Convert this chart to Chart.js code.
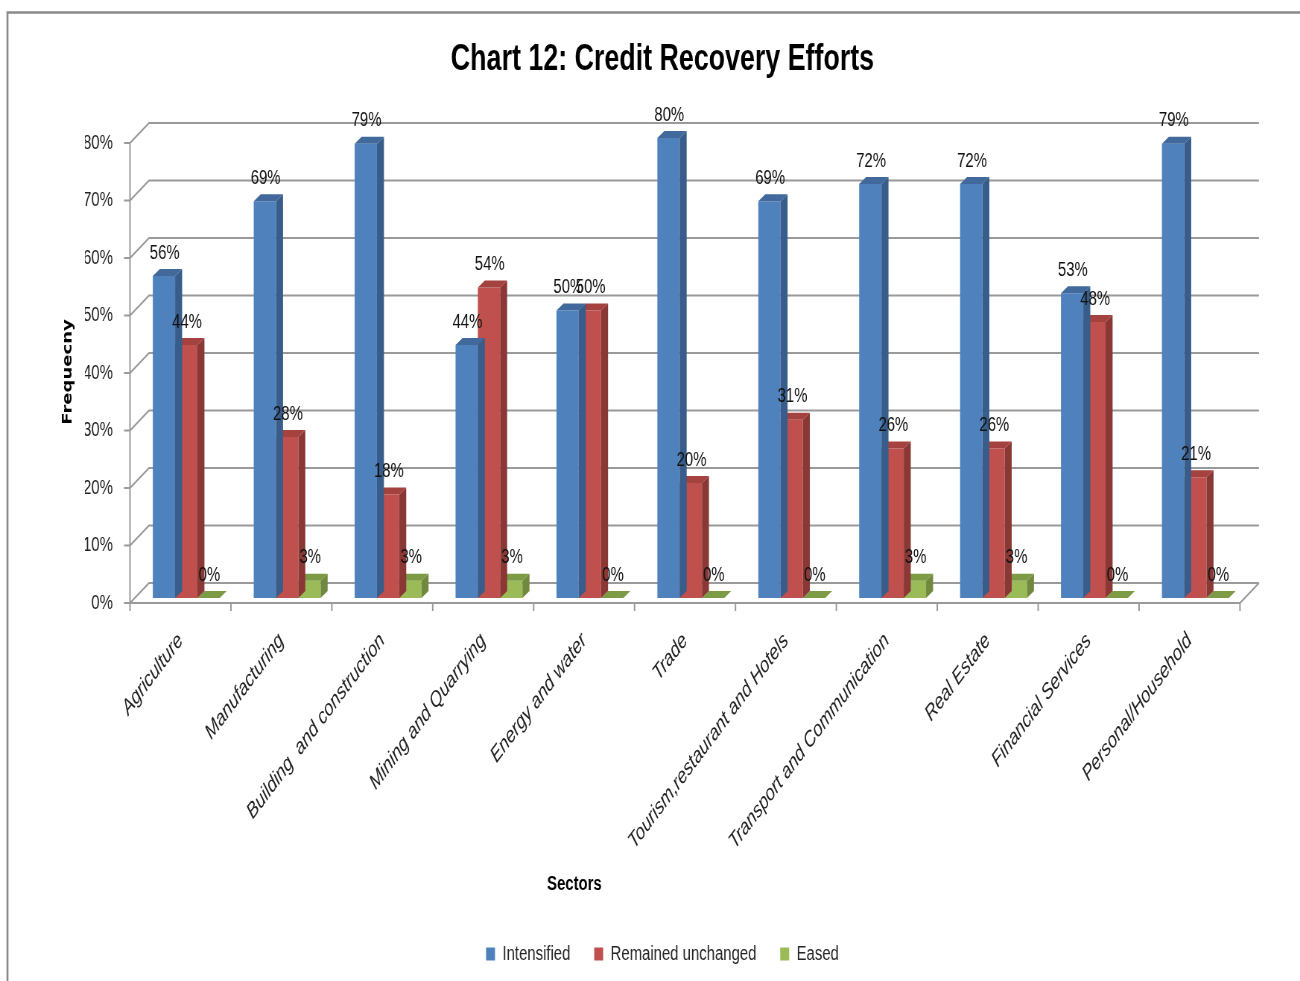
<!DOCTYPE html>
<html>
<head>
<meta charset="utf-8">
<title>Credit Recovery Efforts</title>
<script src="https://cdn.jsdelivr.net/npm/chart.js@4.4.1/dist/chart.umd.min.js"></script>
<style>
  html, body { margin: 0; padding: 0; background: #fff; overflow: hidden; }
  /* chart is laid out wide and squeezed horizontally, like the original export */
  #chart { display: block; transform: scaleX(0.745); transform-origin: 0 0; }
</style>
</head>
<body>
<canvas id="chart" width="1745" height="981"></canvas>
<script>
const sectors = [
  'Agriculture', 'Manufacturing', 'Building  and construction', 'Mining and Quarrying',
  'Energy and water', 'Trade', 'Tourism,restaurant and Hotels', 'Transport and Communication',
  'Real Estate', 'Financial Services', 'Personal/Household'
];
const intensified = [56, 69, 79, 44, 50, 80, 69, 72, 72, 53, 79];
const unchanged   = [44, 28, 18, 54, 50, 20, 31, 26, 26, 48, 21];
const eased       = [0, 3, 3, 3, 0, 0, 0, 3, 3, 0, 0];

// front / side / top shades for each series
const faces = [
  { front: '#4f81bd', side: '#385d8a', top: '#41699c' },
  { front: '#c0504d', side: '#8a3835', top: '#a4423f' },
  { front: '#9bbb59', side: '#71893f', top: '#7d9a45' }
];

const WALL_DX = 25.5, WALL_DY = -20;   // depth of the back wall
const BAR_DX = 9.4, BAR_DY = -7;       // depth of each bar
const SHIFT_X = 7.8, SHIFT_Y = -5;     // bars sit a little into the floor

const GRID = '#9a9a9a';

const box3d = {
  id: 'box3d',
  beforeDraw(chart) {
    const ctx = chart.ctx;
    ctx.save();
    ctx.strokeStyle = '#8a8a8a';
    ctx.lineWidth = 2.7;
    ctx.beginPath();
    ctx.moveTo(10, chart.height);
    ctx.lineTo(10, 12.5);
    ctx.lineTo(chart.width, 12.5);
    ctx.stroke();
    ctx.restore();
  },
  beforeDatasetsDraw(chart) {
    const { ctx, chartArea: a, scales: { y } } = chart;
    ctx.save();
    ctx.strokeStyle = GRID;
    ctx.lineWidth = 2;
    ctx.beginPath();
    y.ticks.forEach(t => {
      const py = y.getPixelForValue(t.value);
      ctx.moveTo(a.left - 8, py);
      ctx.lineTo(a.left, py);
      ctx.lineTo(a.left + WALL_DX, py + WALL_DY);
      ctx.lineTo(a.right + WALL_DX, py + WALL_DY);
    });
    ctx.moveTo(a.left, a.top);
    ctx.lineTo(a.left, a.bottom);
    ctx.lineTo(a.right, a.bottom);
    ctx.lineTo(a.right + WALL_DX, a.bottom + WALL_DY);
    const step = (a.right - a.left) / sectors.length;
    for (let i = 0; i <= sectors.length; i++) {
      const px = a.left + i * step;
      ctx.moveTo(px, a.bottom);
      ctx.lineTo(px, a.bottom + 8);
    }
    ctx.stroke();
    ctx.restore();

    ctx.save();
    ctx.translate(SHIFT_X, SHIFT_Y);
  },
  afterDatasetDraw(chart, args) {
    const ctx = chart.ctx;
    const c = faces[args.index];
    args.meta.data.forEach(bar => {
      const { x, y, base, width } = bar.getProps(['x', 'y', 'base', 'width'], true);
      const l = x - width / 2, r = x + width / 2;
      ctx.fillStyle = c.side;
      ctx.beginPath();
      ctx.moveTo(r, y);
      ctx.lineTo(r + BAR_DX, y + BAR_DY);
      ctx.lineTo(r + BAR_DX, base + BAR_DY);
      ctx.lineTo(r, base);
      ctx.closePath();
      ctx.fill();
      ctx.fillStyle = c.top;
      ctx.beginPath();
      ctx.moveTo(l, y);
      ctx.lineTo(l + BAR_DX, y + BAR_DY);
      ctx.lineTo(r + BAR_DX, y + BAR_DY);
      ctx.lineTo(r, y);
      ctx.closePath();
      ctx.fill();
    });
  },
  afterDatasetsDraw(chart) {
    const ctx = chart.ctx;
    ctx.font = '20px "Liberation Sans", Arial, sans-serif';
    ctx.fillStyle = '#111';
    ctx.textAlign = 'center';
    ctx.textBaseline = 'bottom';
    chart.data.datasets.forEach((ds, i) => {
      chart.getDatasetMeta(i).data.forEach((bar, j) => {
        ctx.fillText(ds.data[j] + '%', bar.x + 1, bar.y - 13);
      });
    });
    ctx.restore();
  },
  afterDraw(chart) {
    const ctx = chart.ctx;
    ctx.save();
    ctx.fillStyle = '#000';
    ctx.textAlign = 'center';
    ctx.textBaseline = 'middle';
    ctx.font = 'bold 20px "Liberation Sans", Arial, sans-serif';
    ctx.fillText('Sectors', 771, 884);
    ctx.translate(91, 372);
    ctx.rotate(-Math.PI / 2);
    ctx.font = 'bold 18px "DejaVu Sans", Verdana, sans-serif';
    ctx.fillText('Frequecny', 0, 0);
    ctx.restore();
  }
};

Chart.defaults.font.family = '"Liberation Sans", Arial, sans-serif';
Chart.defaults.color = '#222';

new Chart(document.getElementById('chart'), {
  type: 'bar',
  data: {
    labels: sectors,
    datasets: [
      { label: 'Intensified', data: intensified, backgroundColor: faces[0].front },
      { label: 'Remained unchanged', data: unchanged, backgroundColor: faces[1].front },
      { label: 'Eased', data: eased, backgroundColor: faces[2].front }
    ].map(d => Object.assign(d, {
      borderWidth: 0, categoryPercentage: 0.663, barPercentage: 1, clip: false
    }))
  },
  options: {
    responsive: false,
    animation: false,
    events: [],
    layout: { padding: { left: 114, right: 80.6, top: 0, bottom: 7 } },
    plugins: {
      title: {
        display: true,
        text: 'Chart 12: Credit Recovery Efforts',
        color: '#000',
        font: { size: 36, weight: 'bold' },
        padding: { top: 38, bottom: 61.8 }
      },
      legend: {
        position: 'bottom',
        labels: { boxWidth: 12, boxHeight: 13, padding: 32, color: '#262626', font: { size: 20 } }
      },
      tooltip: { enabled: false }
    },
    scales: {
      x: {
        grid: { display: false, drawTicks: false },
        border: { display: false },
        ticks: {
          autoSkip: false, minRotation: 45, maxRotation: 45, padding: 25,
          color: '#222', font: { size: 22, style: 'italic' }
        },
        afterFit(s) { s.height = 309; }
      },
      y: {
        min: 0, max: 80,
        grid: { display: false, drawTicks: false },
        border: { display: false },
        ticks: { stepSize: 10, padding: 23, color: '#222', font: { size: 20 }, callback: v => v + '%' },
        afterFit(s) { s.width = 60.5; }
      }
    }
  },
  plugins: [box3d]
});
</script>
</body>
</html>
